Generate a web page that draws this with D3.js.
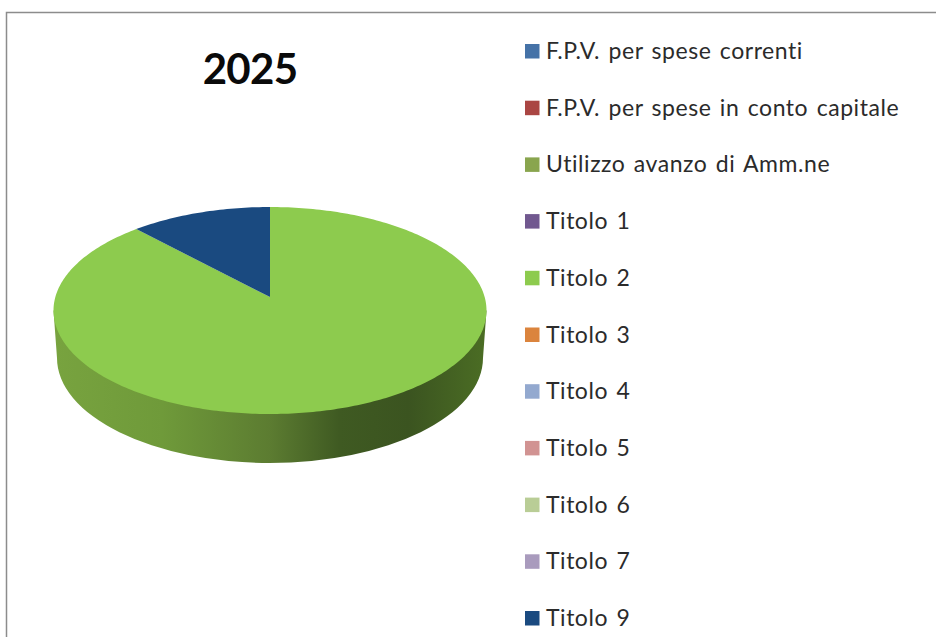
<!DOCTYPE html>
<html>
<head>
<meta charset="utf-8">
<script src="https://cdn.jsdelivr.net/npm/d3@7"></script>
<style>
    html, body { margin: 0; padding: 0; background: #fff; overflow: hidden; }
    .legendLabel { font-family: Lato, sans-serif; font-size: 23px; fill: #2b2b2b; letter-spacing: 0.55px; word-spacing: 2px; }
    .title { font-family: Lato, sans-serif; font-size: 42px; font-weight: bold; fill: #0a0a0a; letter-spacing: -0.7px; }
</style>
</head>
<body>
<div id="chart"></div>
<script>
//Global variables
const width = 936;
const height = 637;

//Data
const categories = ["F.P.V. per spese correnti", "F.P.V. per spese in conto capitale", "Utilizzo avanzo di Amm.ne",
    "Titolo 1", "Titolo 2", "Titolo 3", "Titolo 4", "Titolo 5", "Titolo 6", "Titolo 7", "Titolo 9"];
const shares = [0, 0, 0, 0, 89.4, 0, 0, 0, 0, 0, 10.6];
const swatchColors = ["#4572a7", "#aa4643", "#89a54e", "#71588f", "#8dcb4e", "#db843d",
    "#93a9cf", "#d19392", "#b9cd96", "#a99bbd", "#1a4a80"];
const chartTitle = "2025";

const svg = d3.select("#chart")
    .append("svg")
    .attr("width", width)
    .attr("height", height);

//Frame, only left and top are visible
svg.append("path")
    .attr("d", "M6.5,637V12.5H936")
    .attr("fill", "none")
    .attr("stroke", "#8c8c8c")
    .attr("stroke-width", 1.5);

//Title
svg.append("text")
    .attr("class", "title")
    .attr("x", 250)
    .attr("y", 84)
    .attr("text-anchor", "middle")
    .text(chartTitle);

//Pie geometry: top ellipse, the apex sits above the ellipse centre because of the tilt
const cx = 270;
const cy = 310.5;
const rx = 216.5;
const ry = 103.5;
const apexY = 297;
const depth = 47.5;

const pie = d3.pie().sort(null).value(d => d.share);
const slices = pie(categories.map((name, i) => ({ name: name, share: shares[i], color: swatchColors[i] })))
    .filter(d => d.data.share > 0);

const ellipseX = d3.scaleLinear().domain([-1, 1]).range([cx - rx, cx + rx]);
const ellipseY = d3.scaleLinear().domain([-1, 1]).range([cy - ry, cy + ry]);

const sliceLine = d3.line().x(d => d[0]).y(d => d[1]);
function slicePath(d) {
    const n = Math.ceil((d.endAngle - d.startAngle) * 60);
    const rim = d3.range(n + 1).map(i => {
        const a = d.startAngle + (d.endAngle - d.startAngle) * i / n;
        return [ellipseX(Math.sin(a)), ellipseY(-Math.cos(a))];
    });
    return sliceLine([[cx, apexY]].concat(rim)) + "Z";
}

//Side wall gradient
const gradient = svg.append("defs").append("linearGradient")
    .attr("id", "wall")
    .attr("gradientUnits", "userSpaceOnUse")
    .attr("x1", cx - rx).attr("x2", cx + rx)
    .attr("y1", 0).attr("y2", 0);
[[0, "#78a33f"], [0.25, "#6f9a3a"], [0.5, "#5c7c31"], [0.66, "#3f5a22"], [0.82, "#3b5420"], [1, "#4b6d24"]]
    .forEach(s => gradient.append("stop").attr("offset", s[0]).attr("stop-color", s[1]));

//Side wall, lower ellipse is slightly narrower
const lowerRx = 213;
const lowerRy = 105;
const lowerY = cy + depth;
svg.append("path")
    .attr("d", `M${cx - rx},${cy}L${cx - lowerRx},${lowerY}A${lowerRx},${lowerRy} 0 0 0 ${cx + lowerRx},${lowerY}L${cx + rx},${cy}Z`)
    .attr("fill", "url(#wall)");

//Top of the pie
svg.append("g")
    .selectAll("path")
    .data(slices)
    .enter()
    .append("path")
    .attr("d", slicePath)
    .attr("fill", d => d.data.color);

//Legend
const legendY = d3.scalePoint()
    .domain(categories)
    .range([51, 618]);

const legend = svg.selectAll(".legendRow")
    .data(categories)
    .enter()
    .append("g")
    .attr("class", "legendRow")
    .attr("transform", d => "translate(525," + legendY(d) + ")");

legend.append("rect")
    .attr("y", -7)
    .attr("width", 14.5)
    .attr("height", 14.5)
    .attr("fill", (d, i) => swatchColors[i]);

legend.append("text")
    .attr("class", "legendLabel")
    .attr("x", 21)
    .attr("y", 8)
    .text(d => d);
</script>
</body>
</html>
